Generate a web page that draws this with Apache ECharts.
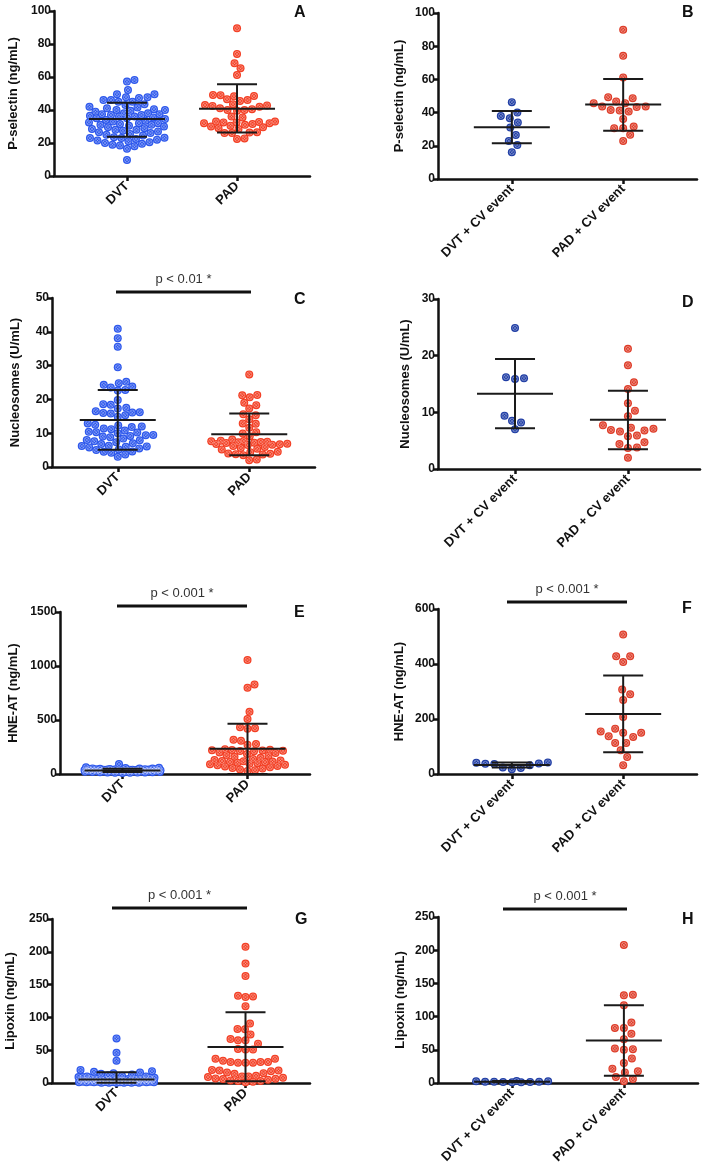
<!DOCTYPE html>
<html>
<head>
<meta charset="UTF-8">
<title></title>
<script src="https://cdn.jsdelivr.net/npm/echarts@6/dist/echarts.min.js"></script>
<style type="text/css">
html, body { margin: 0; padding: 0; background: #fff; }
#box { width: 709px; height: 1170px; }
</style>
</head>
<body>
<div id="box"></div>
<script type="text/javascript">
// categories
var catsAll = ['DVT', 'PAD'];
var catsCV = ['DVT + CV event', 'PAD + CV event'];

// P-selectin (ng/mL)
var pselTicks = [0, 20, 40, 60, 80, 100];
var pselDVT = [58.2, 57.2, 52.1, 49.5, 49.5, 47.7, 47.7, 47.3, 46, 46, 45, 45, 43.5, 43, 42, 41.5, 41, 40.5, 40, 40, 39.5, 39, 38, 38, 37.5, 37.5, 37, 37, 36.5, 36, 36, 35.5, 35, 35, 34.5, 34, 33.5, 33, 32.5, 32, 32, 31.5, 31, 31, 30.5, 30, 29.5, 29, 28.5, 28, 28, 27.5, 27, 26.5, 26, 25.5, 25, 24.5, 23.5, 23.2, 23, 23, 22.5, 22, 21.5, 21, 20.5, 20, 19.5, 19, 18.5, 18, 16.5, 9.7];
var pselPAD = [89.5, 74, 68.3, 65.3, 61.2, 49.1, 49, 48.5, 48.3, 46.5, 46, 45.5, 43.5, 43, 42.8, 42.5, 42, 41, 40.5, 40, 40, 39.5, 36, 35.5, 33, 33, 32.8, 32.5, 32.5, 32, 32, 31.5, 31, 30.5, 30, 29.5, 29, 28.5, 26.5, 26.3, 26, 26, 22.8, 22.5];
var pselStats = [[34.5, 23.8, 44.4], [40.8, 26.3, 55.6]]; // mean, mean-SD, mean+SD
var pselDVTcv = [46.3, 40, 38, 36.6, 34, 31, 26.5, 22.9, 20.5, 16.1];
var pselPADcv = [89.9, 74.2, 61.2, 49.3, 48.7, 46.7, 45.7, 45.7, 43.7, 43.7, 43.3, 41.6, 41.2, 40.6, 36.2, 31.6, 30.6, 30.6, 26.6, 22.9];
var pselStatsCV = [[31.2, 21.5, 41], [44.9, 29, 60.2]];

// Nucleosomes (U/mL)
var nucTicks = [0, 10, 20, 30, 40, 50];
var nucDVT = [40.9, 38.1, 35.6, 29.5, 25.2, 24.8, 24.3, 23.8, 23.5, 22.8, 22.6, 19.8, 18.6, 18.4, 17.5, 17.3, 16.5, 16.2, 16.1, 16, 15.8, 15.3, 14.9, 12.9, 12.5, 12.3, 12, 11.8, 11.4, 11.2, 10.8, 10.4, 10.3, 10.2, 10, 9.5, 9.4, 9.2, 9, 8.8, 8.4, 8, 7.9, 7.6, 7.3, 7, 6.8, 6.3, 6.2, 6.1, 6, 5.8, 5.5, 5.2, 5, 4.6, 4.5, 4.2, 3.7, 3.0];
var nucPAD = [27.4, 21.3, 21.2, 20.6, 19, 18.3, 17.3, 15.6, 15.3, 14.1, 12.9, 12.8, 11.6, 10.3, 9.9, 9.1, 8.1, 7.8, 7.7, 7.6, 7.5, 7.4, 7.3, 7.2, 7.1, 6.9, 6.8, 6.7, 6.6, 6.5, 6.2, 5.9, 5.6, 5.4, 5.2, 4.5, 4.4, 4.0, 3.9, 3.8, 3.7, 3.5, 2.2, 2.0];
var nucStats = [[13.9, 5.1, 22.8], [9.7, 3.5, 15.8]];
var nucTicksCV = [0, 10, 20, 30];
var nucDVTcv = [24.9, 16.2, 16.0, 15.9, 9.4, 8.5, 8.2, 7.0];
var nucPADcv = [21.2, 18.3, 15.3, 14.1, 11.6, 10.3, 9.3, 7.7, 7.3, 7.1, 6.9, 6.8, 6.6, 5.9, 5.8, 4.7, 4.4, 3.8, 3.7, 2.0];
var nucStatsCV = [[13.3, 7.2, 19.4], [8.7, 3.5, 13.8]];

// HNE-AT (ng/mL)
var hneTicks = [0, 500, 1000, 1500];
var hneDVT = [93, 62, 58, 55, 52, 50, 50, 48, 47, 46, 45, 44, 44, 43, 42, 42, 41, 40, 40, 40, 39, 39, 38, 38, 37, 37, 36, 36, 35, 35, 35, 34, 34, 33, 33, 32, 32, 31, 31, 30, 30, 30, 29, 29, 28, 28, 27, 27, 26, 26, 25, 25, 24, 24, 23, 22, 22, 21, 20, 20, 19, 18, 17, 16, 15, 14, 13, 12, 11, 10];
var hnePAD = [1055, 829, 799, 576, 509, 433, 424, 420, 317, 308, 277, 270, 230, 225, 222, 220, 218, 215, 212, 210, 200, 195, 185, 175, 170, 160, 150, 140, 130, 125, 120, 118, 115, 112, 110, 105, 100, 95, 90, 85, 80, 75, 70, 62, 55, 50, 42, 35, 28];
var hneStats = [[33, 18, 48], [233, 0, 466]];
var hneTicksCV = [0, 200, 400, 600];
var hneDVTcv = [42, 41, 38, 37, 36, 32, 24, 22, 17];
var hnePADcv = [507, 428, 428, 407, 307, 290, 269, 207, 165, 155, 150, 150, 137, 135, 113, 113, 86, 62, 32];
var hneStatsCV = [[33, 24, 42], [218, 79, 358]];

// Lipoxin (ng/mL)
var lipTicks = [0, 50, 100, 150, 200, 250];
var lipDVT = [68, 46, 34, 20, 18, 17, 16, 15, 14, 13, 12, 11, 10, 10, 9, 9, 8, 8, 8, 7, 7, 7, 7, 6, 6, 6, 6, 6, 5, 5, 5, 5, 5, 5, 4, 4, 4, 4, 4, 4, 4, 3, 3, 3, 3, 3, 3, 3, 3, 2, 2, 2, 2, 2, 2, 2, 2, 2, 1.5, 1.5, 1.5, 1.5, 1, 1, 1, 1, 1, 1, 0.5, 0.5, 0.5, 0.5, 0.5, 0.5];
var lipPAD = [207.6, 182, 163, 133, 132, 131, 117, 90.6, 82.4, 82, 74, 67, 65, 65, 60, 52, 51, 51, 37, 37, 34, 32, 32, 32, 31, 31, 31, 20, 19, 19, 18, 16, 15, 14, 11, 10, 10, 9, 8, 7, 6.5, 6, 5, 4, 3, 3, 2, 1];
var lipStats = [[5.5, 0.5, 16.3], [55, 2.5, 108]];
var lipDVTcv = [2.5, 2, 1.5, 3, 1, 2, 1.5, 2.5, 1, 2];
var lipPADcv = [208, 133, 132, 117, 91, 83, 83, 74, 66, 52, 51, 50, 37, 30, 21.6, 17.6, 16, 9, 6, 2.5];
var lipStatsCV = [[2, 1, 3], [64, 11, 117]];

var pValues = { C: 'p < 0.01 *', E: 'p < 0.001 *', F: 'p < 0.001 *', G: 'p < 0.001 *', H: 'p < 0.001 *' };

var light = ['#2b56ec', '#f33d22'];
var dark = ['#1e3ca4', '#de3b27'];

var panels = [
	{ letter: 'A', name: 'P-selectin (ng/mL)', cats: catsAll, groups: [pselDVT, pselPAD], stats: pselStats, ticks: pselTicks, grid: { left: 54, top: 11, width: 256, height: 165 }, xr: [-0.663, 1.663], colors: light, gap: 34, lp: [300, 13] },
	{ letter: 'B', name: 'P-selectin (ng/mL)', cats: catsCV, groups: [pselDVTcv, pselPADcv], stats: pselStatsCV, ticks: pselTicks, grid: { left: 438, top: 13, width: 259, height: 166 }, xr: [-0.663, 1.663], colors: dark, gap: 32, lp: [688, 13] },
	{ letter: 'C', name: 'Nucleosomes (U/mL)', cats: catsAll, groups: [nucDVT, nucPAD], stats: nucStats, ticks: nucTicks, grid: { left: 52, top: 298, width: 263, height: 169 }, xr: [-0.5, 1.5], colors: light, gap: 30, lp: [300, 300], br: [116, 251, 292] },
	{ letter: 'D', name: 'Nucleosomes (U/mL)', cats: catsCV, groups: [nucDVTcv, nucPADcv], stats: nucStatsCV, ticks: nucTicksCV, grid: { left: 438, top: 299, width: 262, height: 170 }, xr: [-0.682, 1.638], colors: dark, gap: 26, lp: [688, 303] },
	{ letter: 'E', name: 'HNE-AT (ng/mL)', cats: catsAll, groups: [hneDVT, hnePAD], stats: hneStats, ticks: hneTicks, grid: { left: 60, top: 612, width: 250, height: 162 }, xr: [-0.5, 1.5], colors: light, gap: 40, lp: [300, 613], br: [117, 247, 606] },
	{ letter: 'F', name: 'HNE-AT (ng/mL)', cats: catsCV, groups: [hneDVTcv, hnePADcv], stats: hneStatsCV, ticks: hneTicksCV, grid: { left: 438, top: 609, width: 259, height: 165 }, xr: [-0.663, 1.663], colors: dark, gap: 32, lp: [688, 609], br: [507, 627, 602] },
	{ letter: 'G', name: 'Lipoxin (ng/mL)', cats: catsAll, groups: [lipDVT, lipPAD], stats: lipStats, ticks: lipTicks, grid: { left: 52, top: 919, width: 258, height: 164 }, xr: [-0.5, 1.5], colors: light, gap: 35, lp: [301, 920], br: [112, 247, 908] },
	{ letter: 'H', name: 'Lipoxin (ng/mL)', cats: catsCV, groups: [lipDVTcv, lipPADcv], stats: lipStatsCV, ticks: lipTicks, grid: { left: 438, top: 917, width: 260, height: 166 }, xr: [-0.663, 1.663], colors: dark, gap: 31, lp: [688, 920], br: [503, 627, 909] }
];

var DOT = 8;
var FONT = '"Liberation Sans", Arial, sans-serif';
var crossPath = 'path://M0,5 A5,5 0 1,0 10,5 A5,5 0 1,0 0,5 Z M1.6,1.6 L8.4,8.4 M8.4,1.6 L1.6,8.4';

// column scatter layout (horizontal offsets in px), like a beeswarm
function swarm(vals, pxPerUnit, d, maxHalf) {
	var idx = vals.map(function (v, i) { return i; }).sort(function (a, b) { return vals[a] - vals[b]; });
	var placed = [];
	var off = [];
	idx.forEach(function (i) {
		var y = vals[i] * pxPerUnit;
		var best = 0, bestScore = -1;
		for (var k = 0; ; k++) {
			var c = (k % 2 ? 1 : -1) * Math.ceil(k / 2) * 0.5;
			if (Math.abs(c) > maxHalf) break;
			var minD = Infinity;
			for (var j = 0; j < placed.length; j++) {
				var dd = Math.sqrt(Math.pow(placed[j][0] - c, 2) + Math.pow(placed[j][1] - y, 2));
				if (dd < minD) minD = dd;
			}
			if (minD >= d) { best = c; break; }
			if (minD > bestScore) { bestScore = minD; best = c; }
		}
		placed.push([best, y]);
		off[i] = best;
	});
	return off;
}

var grids = [], xAxes = [], yAxes = [], series = [], graphics = [];

panels.forEach(function (p, i) {
	var g = p.grid;
	grids.push({ left: g.left, top: g.top, width: g.width, height: g.height, containLabel: false, outerBoundsMode: 'none' });
	var ymax = p.ticks[p.ticks.length - 1];
	var pxY = g.height / ymax;
	var pxX = g.width / (p.xr[1] - p.xr[0]);
	var cats = p.cats;

	xAxes.push({
		gridIndex: i, type: 'value', min: p.xr[0], max: p.xr[1],
		axisLine: { show: true, onZero: false, lineStyle: { color: '#111', width: 2.5 } },
		axisTick: { show: true, customValues: [0, 1], length: 5, lineStyle: { color: '#111', width: 2.5 } },
		axisLabel: {
			customValues: [0, 1], rotate: 45, margin: 8, color: '#111', fontWeight: 'bold', fontSize: 13, fontFamily: FONT,
			formatter: function (v) { return cats[Math.round(v)] || ''; }
		},
		splitLine: { show: false }
	});
	yAxes.push({
		gridIndex: i, type: 'value', min: p.ticks[0], max: ymax, interval: p.ticks[1] - p.ticks[0],
		name: p.name, nameLocation: 'middle', nameGap: p.gap, nameRotate: 90,
		nameTextStyle: { color: '#111', fontWeight: 'bold', fontSize: 13, fontFamily: FONT },
		axisLine: { show: true, onZero: false, lineStyle: { color: '#111', width: 2.5 } },
		axisTick: { show: true, length: 5, lineStyle: { color: '#111', width: 2.5 } },
		axisLabel: {
			margin: 3, color: '#111', fontWeight: 'bold', fontSize: 12, fontFamily: FONT,
			formatter: function (v) { return String(v); }
		},
		splitLine: { show: false }
	});

	p.groups.forEach(function (vals, gi) {
		// small groups are spread a little looser, like the original
		var gapPx = vals.length <= 25 ? DOT + 1 : DOT - 0.5;
		var off = swarm(vals, pxY, gapPx, 38);
		var data = vals.map(function (v, k) { return [gi + off[k] / pxX, v]; });
		series.push({
			type: 'scatter', xAxisIndex: i, yAxisIndex: i, data: data, symbolSize: DOT, silent: true, z: 2,
			itemStyle: { color: p.colors[gi], opacity: 1 }
		});
		series.push({
			type: 'scatter', xAxisIndex: i, yAxisIndex: i, data: data, symbol: crossPath, symbolSize: 5, silent: true, z: 3,
			itemStyle: { color: 'rgba(0,0,0,0)', borderColor: 'rgba(255,255,255,0.5)', borderWidth: 0.8 }
		});
	});

	series.push({
		type: 'custom', xAxisIndex: i, yAxisIndex: i, silent: true, z: 5,
		data: p.stats.map(function (s, gi) { return [gi, s[0], s[1], s[2]]; }),
		renderItem: function (params, api) {
			var x = api.value(0);
			var pm = api.coord([x, api.value(1)]);
			var pl = api.coord([x, api.value(2)]);
			var ph = api.coord([x, api.value(3)]);
			var st = { stroke: '#1a1a1a', lineWidth: 2 };
			return {
				type: 'group', children: [
					{ type: 'line', shape: { x1: pm[0] - 38, y1: pm[1], x2: pm[0] + 38, y2: pm[1] }, style: st },
					{ type: 'line', shape: { x1: pl[0], y1: pl[1], x2: ph[0], y2: ph[1] }, style: st },
					{ type: 'line', shape: { x1: ph[0] - 20, y1: ph[1], x2: ph[0] + 20, y2: ph[1] }, style: st },
					{ type: 'line', shape: { x1: pl[0] - 20, y1: pl[1], x2: pl[0] + 20, y2: pl[1] }, style: st }
				]
			};
		}
	});

	graphics.push({
		type: 'text', left: p.lp[0] - 6, top: p.lp[1] - 8,
		style: { text: p.letter, fill: '#111', font: 'bold 16px ' + FONT }
	});
	if (p.br) {
		graphics.push({
			type: 'line', shape: { x1: p.br[0], y1: p.br[2], x2: p.br[1], y2: p.br[2] },
			style: { stroke: '#111', lineWidth: 3 }
		});
		graphics.push({
			type: 'text', x: (p.br[0] + p.br[1]) / 2, y: p.br[2] - 6,
			style: { text: pValues[p.letter], fill: '#333', font: '13px ' + FONT, textAlign: 'center', textVerticalAlign: 'bottom' }
		});
	}
});

var myChart = echarts.init(document.getElementById('box'));
var option = {
	backgroundColor: '#fff',
	animation: false,
	grid: grids,
	xAxis: xAxes,
	yAxis: yAxes,
	series: series,
	graphic: graphics
};
myChart.setOption(option);
</script>
</body>
</html>
